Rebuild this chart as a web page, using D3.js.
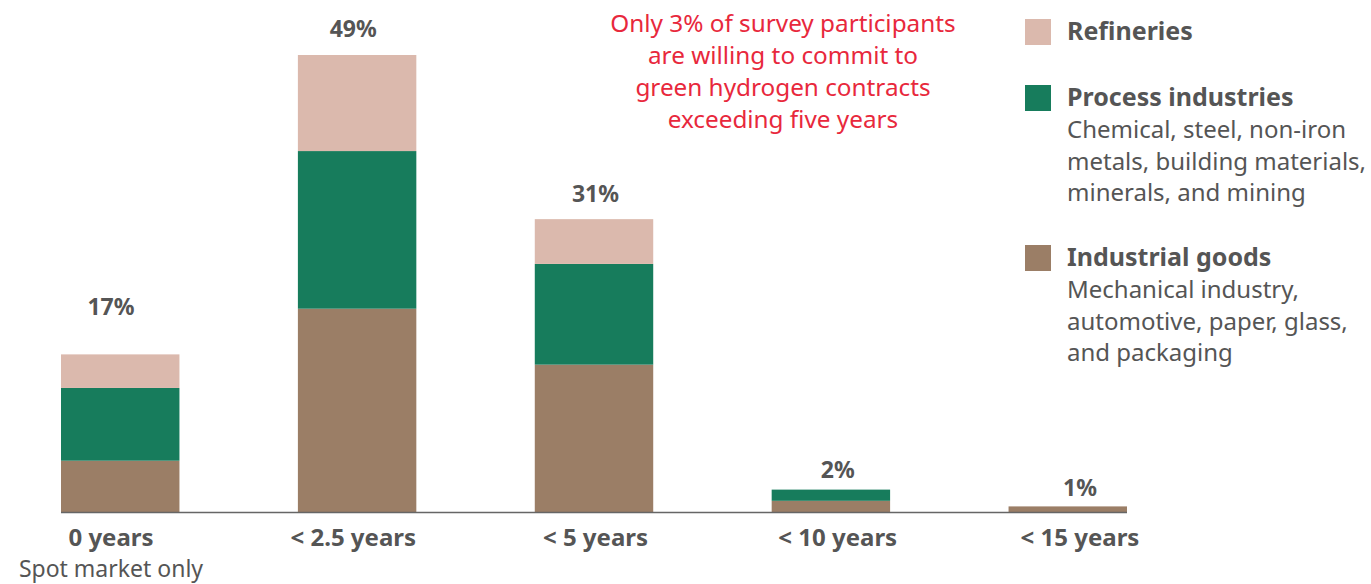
<!DOCTYPE html>
<html lang="en">
<head>
<meta charset="UTF-8">
<script src="https://d3js.org/d3.v7.min.js"></script>
<style>
  body { margin: 0; background: #fff; }
  text { font-family: "Noto Sans", sans-serif; }
</style>
</head>
<body>
<svg width="1371" height="584" id="chart"></svg>
<script>
// data (% of participants)
const categories = ["0 years", "< 2.5 years", "< 5 years", "< 10 years", "< 15 years"];
const industrialGoods = [5.5, 21.8, 15.8, 1.2, 0.6];
const processIndustries = [7.8, 16.9, 10.8, 1.2, 0];
const refineries = [3.6, 10.3, 4.8, 0, 0];
const totalLabels = ["17%", "49%", "31%", "2%", "1%"];
const seriesNames = ["Industrial goods", "Process industries", "Refineries"];
const legendItems = [
  { name: "Refineries", lines: [] },
  { name: "Process industries", lines: ["Chemical, steel, non-iron", "metals, building materials,", "minerals, and mining"] },
  { name: "Industrial goods", lines: ["Mechanical industry,", "automotive, paper, glass,", "and packaging"] }
];
const noteLines = ["Only 3% of survey participants", "are willing to commit to", "green hydrogen contracts", "exceeding five years"];

const colors = { "Refineries": "#dbb9ad", "Process industries": "#177c5c", "Industrial goods": "#9b7e66" };
const textColor = "#555";

const svg = d3.select("#chart");
const baseY = 512;

const rows = categories.map((c, i) => ({
  cat: c,
  "Industrial goods": industrialGoods[i],
  "Process industries": processIndustries[i],
  "Refineries": refineries[i]
}));
const stacked = d3.stack().keys(seriesNames)(rows);

const x = d3.scaleBand().domain(categories).range([61, 1127]).paddingInner(0.5).paddingOuter(0);
const xLab = d3.scalePoint().domain(categories).range([111, 1080]);
const y = d3.scaleLinear().domain([0, 49]).range([baseY, 55]);

// stacked bars
svg.append("g").selectAll("g")
  .data(stacked)
  .join("g")
  .attr("fill", d => colors[d.key])
  .selectAll("rect")
  .data(d => d)
  .join("rect")
  .attr("x", d => x(d.data.cat))
  .attr("y", d => y(d[1]))
  .attr("width", x.bandwidth())
  .attr("height", d => y(d[0]) - y(d[1]));

// baseline
svg.append("line")
  .attr("x1", x.range()[0]).attr("x2", x.range()[1])
  .attr("y1", baseY + 0.5).attr("y2", baseY + 0.5)
  .attr("stroke", "#666").attr("stroke-width", 1.5);

// total labels
const totals = rows.map(r => seriesNames.reduce((s, k) => s + r[k], 0));
const labelLift = [39, 18, 17, 12, 10];
svg.append("g").selectAll("text")
  .data(categories)
  .join("text")
  .attr("x", d => xLab(d))
  .attr("y", (d, i) => y(totals[i]) - labelLift[i])
  .attr("text-anchor", "middle")
  .attr("font-size", 23)
  .attr("font-weight", 700)
  .attr("fill", textColor)
  .text((d, i) => totalLabels[i]);

// category labels
svg.append("g").selectAll("text")
  .data(categories)
  .join("text")
  .attr("x", d => xLab(d))
  .attr("y", 546)
  .attr("text-anchor", "middle")
  .attr("font-size", 24)
  .attr("font-weight", 700)
  .attr("fill", textColor)
  .text(d => d);

svg.append("text")
  .attr("x", xLab(categories[0]))
  .attr("y", 577)
  .attr("text-anchor", "middle")
  .attr("font-size", 23)
  .attr("fill", textColor)
  .text("Spot market only");

// red note
svg.append("text")
  .attr("text-anchor", "middle")
  .attr("font-size", 24.3)
  .attr("fill", "#e8283c")
  .selectAll("tspan")
  .data(noteLines)
  .join("tspan")
  .attr("x", 783)
  .attr("y", (d, i) => 32 + i * 32)
  .text(d => d);

// legend
const legendTop = [19, 85, 245];
const lg = svg.append("g").selectAll("g")
  .data(legendItems)
  .join("g")
  .attr("transform", (d, i) => "translate(1025," + legendTop[i] + ")");

lg.append("rect")
  .attr("width", 26).attr("height", 26)
  .attr("fill", d => colors[d.name]);

lg.append("text")
  .attr("x", 42).attr("y", 21)
  .attr("font-size", 25)
  .attr("font-weight", 700)
  .attr("fill", textColor)
  .text(d => d.name);

lg.append("text")
  .attr("font-size", 24)
  .attr("fill", textColor)
  .selectAll("tspan")
  .data(d => d.lines)
  .join("tspan")
  .attr("x", 42)
  .attr("y", (d, i) => 53 + i * 31.5)
  .text(d => d);
</script>
</body>
</html>
